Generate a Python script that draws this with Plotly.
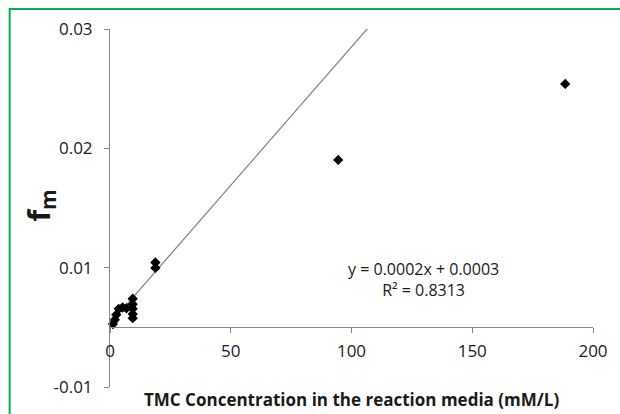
import plotly.graph_objects as go

# TMC concentration (mM/L) and measured f_m
tmc_conc = [1.2, 2.0, 2.6, 3.6, 5.2, 6.8,
            9.4, 9.4, 9.4, 9.4, 9.4,
            18.8, 18.8, 94.5, 188.5]
fm_values = [0.00027, 0.00063, 0.00105, 0.00155, 0.00166, 0.00160,
             0.00239, 0.00194, 0.00155, 0.00111, 0.00077,
             0.00543, 0.00498, 0.01403, 0.02040]

# linear trendline
trend_slope = 0.000232
trend_intercept = 0.0003
trend_label = "y = 0.0002x + 0.0003<br>R² = 0.8313"

x_ticks = [0, 50, 100, 150, 200]
y_tickvals = [-0.005, 0.005, 0.015, 0.025]
y_ticktext = ["-0.01", "0.01", "0.02", "0.03"]

FONT = "Open Sans"
AXIS_GREY = "#868686"

fig = go.Figure()

trend_x = [min(tmc_conc), max(tmc_conc)]
trend_y = [trend_slope * v + trend_intercept for v in trend_x]
fig.add_trace(go.Scatter(
    x=trend_x, y=trend_y, mode="lines",
    line=dict(color="#7f7f7f", width=1.2),
    hoverinfo="skip", showlegend=False,
))

fig.add_trace(go.Scatter(
    x=tmc_conc, y=fm_values, mode="markers",
    marker=dict(symbol="diamond", size=8, color="black"),
    showlegend=False, cliponaxis=False,
))

fig.update_layout(
    width=620, height=414,
    margin=dict(l=110, r=19, t=29, b=27),
    paper_bgcolor="white", plot_bgcolor="white",
    font=dict(family=FONT, size=17, color="#1a1a1a"),
    xaxis=dict(
        range=[0, 200], tickvals=x_ticks,
        showgrid=False, zeroline=False,
        showline=True, linecolor=AXIS_GREY, linewidth=1,
        ticks="outside", ticklen=5, tickcolor=AXIS_GREY,
        anchor="free", position=1 / 6,
        tickfont=dict(family=FONT, size=17),
        ticklabelstandoff=3,
    ),
    yaxis=dict(
        range=[-0.005, 0.025], tickvals=y_tickvals, ticktext=y_ticktext,
        showgrid=False, zeroline=False,
        showline=True, linecolor=AXIS_GREY, linewidth=1,
        ticks="outside", ticklen=5, tickcolor=AXIS_GREY,
        tickfont=dict(family=FONT, size=17),
        ticklabelstandoff=8,
    ),
    shapes=[dict(
        type="rect", xref="paper", yref="paper",
        x0=(8 - 110) / 491, x1=(650 - 110) / 491,
        y0=-0.2, y1=1 + (29 - 9) / 358,
        line=dict(color="#00b050", width=2), layer="below",
    )],
    annotations=[
        dict(text=trend_label, xref="x", yref="y", x=130, y=0.004,
             showarrow=False, align="center",
             font=dict(family=FONT, size=16, color="#1a1a1a")),
        dict(text="TMC Concentration in the reaction media (mM/L)",
             xref="paper", yref="paper", x=(355 - 110) / 491,
             y=-(399 - 387) / 358, yanchor="middle", showarrow=False,
             font=dict(family=FONT, size=17, color="#1a1a1a", weight="bold")),
        dict(text="f<sub>m</sub>", xref="paper", yref="paper",
             x=(14 - 110) / 491, y=(387 - 206) / 358, textangle=-90,
             showarrow=False,
             font=dict(family=FONT, size=30, color="#1a1a1a", weight="bold")),
    ],
)

fig.write_html("out.html")
